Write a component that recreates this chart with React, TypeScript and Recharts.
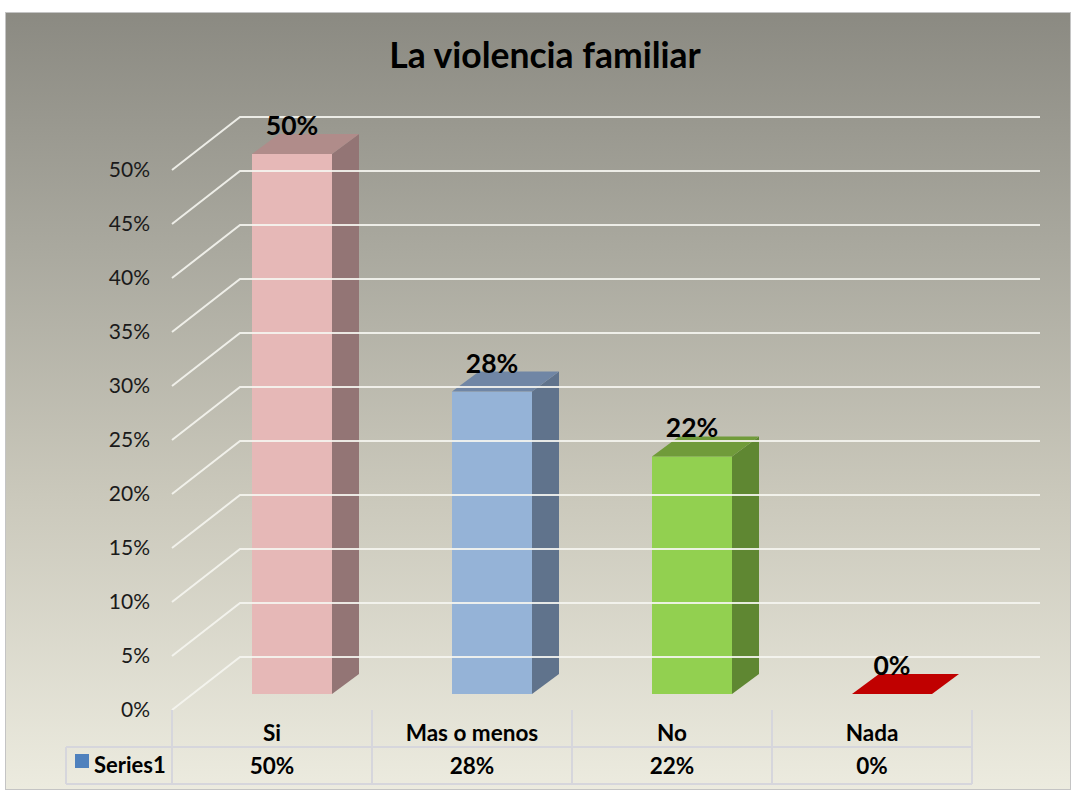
import { BarChart, Bar, XAxis, YAxis, LabelList } from 'recharts'

const categories = ['Si', 'Mas o menos', 'No', 'Nada']
const values = [0.5, 0.28, 0.22, 0]
const yTicks = [0, 0.05, 0.1, 0.15, 0.2, 0.25, 0.3, 0.35, 0.4, 0.45, 0.5]
const seriesName = 'Series1'

const frontColors = ['#e6b8b7', '#95b3d7', '#92d050', '#c00000']
const topColors = ['#b08c8a', '#7086a5', '#709b3a', '#c00000']
const sideColors = ['#937575', '#60738c', '#5f8732', '#900000']

const data = categories.map((name, i) => ({ name, value: values[i] }))

const W = 1066
const H = 778
// bar plane inside the chart box
const PLOT_LEFT = 187
const PLOT_RIGHT = 987
const PLOT_TOP = 142
const PLOT_BOTTOM = 682
// 3D offsets from the bar plane
const FRONT = { dx: -20, dy: 16 }
const BACK = { dx: 48, dy: -37 }
const DEPTH = { dx: 27, dy: -20 }
const FONT = 'Lato, "Open Sans", sans-serif'
const GRID = 'rgba(245,245,240,0.9)'
const TABLE_LINE = '#d6d6dc'

const pct = (v: number) => `${Math.round(v * 100)}%`

function Bar3D(props: any) {
  const { x, y, width, height, index } = props
  const w = width
  const h = Math.max(height, 0)
  const { dx, dy } = DEPTH
  const top = `${x},${y} ${x + w},${y} ${x + w + dx},${y + dy} ${x + dx},${y + dy}`
  const side = `${x + w},${y} ${x + w + dx},${y + dy} ${x + w + dx},${y + h + dy} ${x + w},${y + h}`
  return (
    <g>
      {h > 0 && <rect x={x} y={y} width={w} height={h} fill={frontColors[index]} />}
      {h > 0 && <polygon points={side} fill={sideColors[index]} />}
      <polygon points={top} fill={topColors[index]} />
    </g>
  )
}

function ValueLabel(props: any) {
  const { x, y, width, value } = props
  return (
    <text
      x={x + width / 2}
      y={y + DEPTH.dy + 1}
      textAnchor="middle"
      fontFamily={FONT}
      fontWeight={700}
      fontSize={26.5}
      fill="#000"
    >
      {pct(value)}
    </text>
  )
}

function YTick(props: any) {
  const { y, payload } = props
  const fx = PLOT_LEFT + FRONT.dx
  const fy = y + FRONT.dy
  const bx = PLOT_LEFT + BACK.dx
  const by = y + BACK.dy
  return (
    <g>
      <polyline
        points={`${fx},${fy} ${bx},${by} ${PLOT_RIGHT + BACK.dx},${by}`}
        fill="none"
        stroke={GRID}
        strokeWidth={2}
      />
      <text
        x={fx - 22}
        y={fy}
        dy={7}
        textAnchor="end"
        fontFamily={FONT}
        fontSize={21}
        fill="#1a1a1a"
      >
        {pct(payload.value)}
      </text>
    </g>
  )
}

function XTick(props: any) {
  const { x, payload, index } = props
  const band = (PLOT_RIGHT - PLOT_LEFT) / categories.length
  const cx = x + FRONT.dx
  const top = PLOT_BOTTOM + FRONT.dy
  const mid = top + 37
  const bottom = mid + 37
  const left = cx - band / 2
  const right = cx + band / 2
  return (
    <g fontFamily={FONT} fontWeight={700} fontSize={22.5} fill="#000">
      <line x1={right} y1={top} x2={right} y2={bottom} stroke={TABLE_LINE} strokeWidth={2} />
      {index === 0 && (
        <g>
          <line x1={left} y1={top} x2={left} y2={bottom} stroke={TABLE_LINE} strokeWidth={2} />
          <line x1={61} y1={mid} x2={left} y2={mid} stroke={TABLE_LINE} strokeWidth={2} />
          <line x1={61} y1={bottom} x2={left} y2={bottom} stroke={TABLE_LINE} strokeWidth={2} />
          <line x1={61} y1={mid} x2={61} y2={bottom} stroke={TABLE_LINE} strokeWidth={2} />
          <rect x={70} y={mid + 7} width={14} height={14} fill="#4f81bd" />
          <text x={89} y={mid + 26} fontSize={22}>{seriesName}</text>
        </g>
      )}
      <line x1={left} y1={mid} x2={right} y2={mid} stroke={TABLE_LINE} strokeWidth={2} />
      <line x1={left} y1={bottom} x2={right} y2={bottom} stroke={TABLE_LINE} strokeWidth={2} />
      <text x={cx} y={top + 31} textAnchor="middle">{payload.value}</text>
      <text x={cx} y={mid + 27} textAnchor="middle">{pct(values[index])}</text>
    </g>
  )
}

export default function App() {
  return (
    <div
      style={{
        position: 'absolute',
        left: 5,
        top: 12,
        width: W,
        height: H,
        boxSizing: 'border-box',
        border: '1px solid #c4c4c4',
        background: 'linear-gradient(180deg, #8b8a82 0%, #a9a89e 30%, #cac8bb 62%, #ecebdf 100%)',
      }}
    >
      <div
        style={{
          position: 'absolute',
          left: 14,
          right: 0,
          top: 20,
          textAlign: 'center',
          fontFamily: FONT,
          fontWeight: 700,
          fontSize: 35.5,
          lineHeight: '44px',
          color: '#000',
        }}
      >
        La violencia familiar
      </div>
      <div style={{ position: 'absolute', left: -1, top: -1 }}>
        <BarChart
          width={W}
          height={H}
          data={data}
          margin={{ top: PLOT_TOP, right: W - PLOT_RIGHT, bottom: 0, left: 0 }}
          barCategoryGap={60}
        >
          <YAxis
            width={PLOT_LEFT}
            domain={[0, 0.5]}
            ticks={yTicks}
            axisLine={false}
            tickLine={false}
            tick={<YTick />}
            interval={0}
            zIndex={-100}
          />
          <XAxis
            dataKey="name"
            axisLine={false}
            tickLine={false}
            tick={<XTick />}
            interval={0}
            height={H - PLOT_BOTTOM}
          />
          <Bar dataKey="value" barSize={80} shape={<Bar3D />} isAnimationActive={false}>
            <LabelList dataKey="value" content={<ValueLabel />} />
          </Bar>
        </BarChart>
      </div>
    </div>
  )
}
